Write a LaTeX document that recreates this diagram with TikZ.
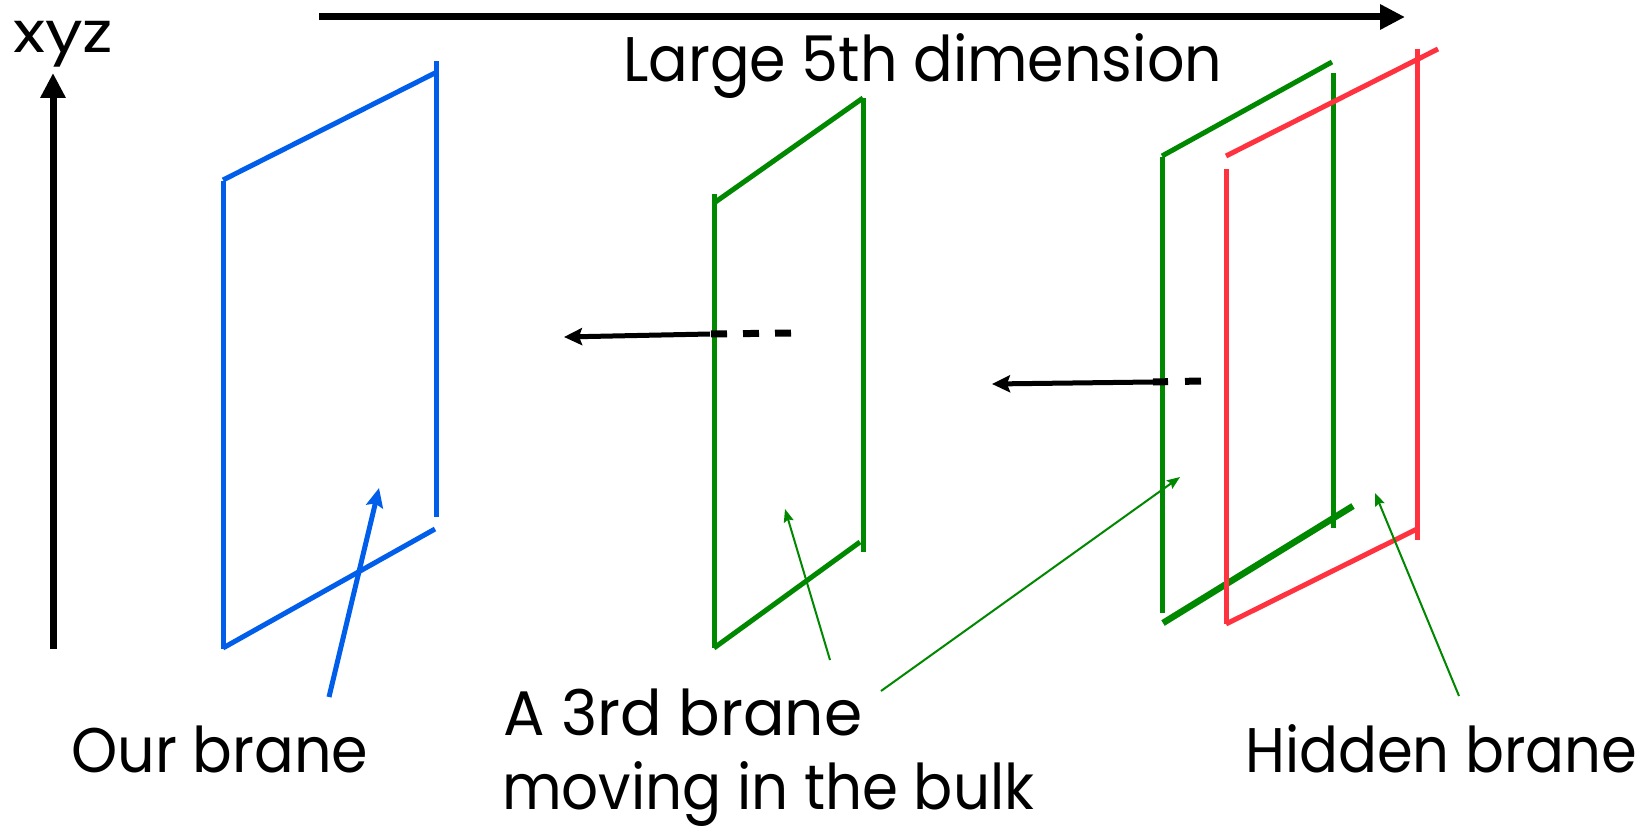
\documentclass[tikz,border=0pt]{standalone}
\usepackage{fontspec}
\setmainfont{Poppins}
\usetikzlibrary{arrows.meta}
\definecolor{braneblue}{RGB}{0,94,235}
\definecolor{branegreen}{RGB}{0,136,0}
\definecolor{branered}{RGB}{255,51,64}
\newsavebox\lblbox
\newlength\lbldim
\newcommand\fitlbl[2]{\sbox\lblbox{#2}\setlength\lbldim{\wd\lblbox}\pgfmathsetmacro\lblfx{#1/\lbldim}\scalebox{\lblfx}[1]{\usebox\lblbox}}
\tikzset{
  brane/.style={line width=5pt},
  lbl/.style={anchor=base west, inner sep=0pt, font=\fontsize{63}{70}\selectfont},
  axisarrow/.style={line width=7pt, -{Triangle[length=25pt,width=24pt]}},
  pusharrow/.style={line width=5pt, -{Stealth[length=18pt,width=17pt,inset=3pt]}},
  pushdash/.style={line width=7pt, dash pattern=on 16pt off 16pt},
  pointer/.style={line width=2pt, branegreen, -{Stealth[length=13pt,width=10pt,inset=2pt]}},
}
\begin{document}
\begin{tikzpicture}[x=1pt,y=-1pt]
\useasboundingbox (0,0) rectangle (1647,837);
% axes
\coordinate (zb) at (53,649);
\coordinate (zt) at (53,73);
\draw[axisarrow] (zb) -- (zt);
\coordinate (xl) at (319,17);
\coordinate (xr) at (1405,17);
\draw[axisarrow] (xl) -- (xr);
\node[lbl, font=\fontsize{57}{64}\selectfont] (xyz) at (13,53) {\fitlbl{100}{xyz}};
\node[lbl] (large) at (623,82) {\fitlbl{599}{Large 5th dimension}};
% our brane (blue)
\begin{scope}[brane, braneblue]
  \draw (223,181) -- (223,649);
  \draw (223,180) -- (435,73);
  \draw (436,61) -- (436,517);
  \draw (223,648) -- (435,529);
\end{scope}
% third brane (green, middle)
\begin{scope}[brane, branegreen]
  \draw (714,194) -- (714,648);
  \draw (714,203) -- (863,98);
  \draw (863,98) -- (863,552);
  \draw (714,648) -- (860,542);
\end{scope}
% green brane (right group)
\begin{scope}[brane, branegreen]
  \draw (1162,157) -- (1162,613);
  \draw (1162,156) -- (1332,62);
  \draw (1333,73) -- (1333,528);
  \draw[line width=6.5pt] (1163,623) -- (1353,506);
\end{scope}
% hidden brane (red)
\begin{scope}[brane, branered]
  \draw (1226,169) -- (1226,624);
  \draw (1226,156) -- (1438,49);
  \draw (1417,49) -- (1417,540);
  \draw (1226,624) -- (1417,529);
\end{scope}
% motion arrows
\coordinate (m1d) at (791,333);
\coordinate (m1s) at (710,334);
\coordinate (m1t) at (564,337);
\draw[pushdash] (m1d) -- (m1s);
\draw[pusharrow] (m1s) -- (m1t);
\coordinate (m2d) at (1201,381);
\coordinate (m2s) at (1153,382);
\coordinate (m2t) at (992,384);
\draw[pushdash, dash pattern=on 16pt off 17pt] (m2d) -- (m2s);
\draw[pusharrow] (m2s) -- (m2t);
% labels
\node[lbl] (our) at (71,772) {\fitlbl{297}{Our brane}};
\node[lbl] (third) at (503,735) {\fitlbl{359}{A 3rd brane}};
\node[lbl] (moving) at (502,809) {\fitlbl{532}{moving in the bulk}};
\node[lbl] (hidden) at (1245,772) {\fitlbl{392}{Hidden brane}};
% pointers
\coordinate (pb) at (329,697);
\coordinate (pbt) at (379,488);
\draw[braneblue, line width=5pt, -{Stealth[length=19pt,width=17pt,inset=3pt]}] (pb) -- (pbt);
\coordinate (pm) at (830,660);
\coordinate (pmt) at (785,509);
\draw[pointer] (pm) -- (pmt);
\coordinate (pg) at (881,691);
\coordinate (pgt) at (1180,477);
\draw[pointer] (pg) -- (pgt);
\coordinate (ph) at (1459,696);
\coordinate (pht) at (1375,493);
\draw[pointer] (ph) -- (pht);
\end{tikzpicture}
\end{document}
